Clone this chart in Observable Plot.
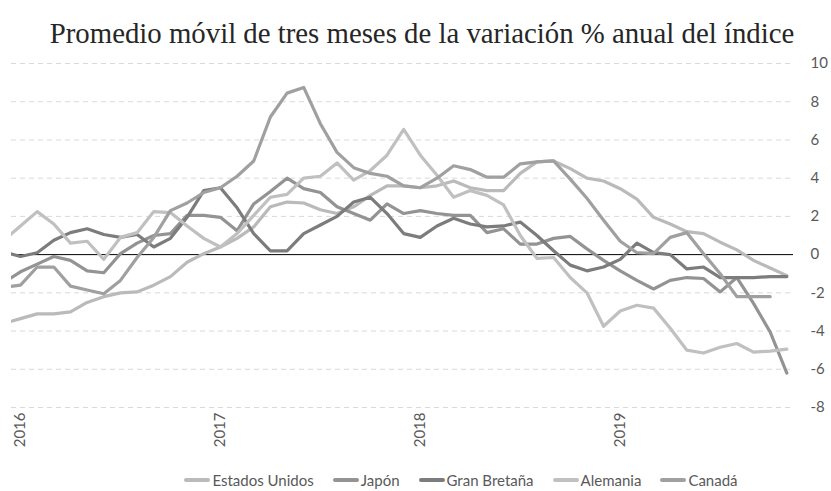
<!DOCTYPE html>
<html><head><meta charset="utf-8">
<script src="https://cdn.jsdelivr.net/npm/d3@7"></script>
<script src="https://cdn.jsdelivr.net/npm/@observablehq/plot@0.6"></script>
<style>
body{margin:0;background:#fff;width:831px;height:491px;overflow:hidden;position:relative;font-family:Lato,sans-serif;}
#title{position:absolute;left:0;top:19px;width:831px;padding-left:13px;box-sizing:border-box;text-align:center;font-family:"Liberation Serif",serif;font-size:28.8px;line-height:29px;color:#262626;white-space:nowrap;}
#chart{position:absolute;left:0;top:50px;}
#legend{position:absolute;left:0;top:468px;width:831px;height:24px;display:flex;justify-content:center;align-items:center;padding-left:110px;box-sizing:border-box;font-size:15px;color:#595959;}
.item{display:flex;align-items:center;margin-right:19px;}
.sw{display:inline-block;width:26px;height:4px;border-radius:2px;margin-right:2px;}
</style></head><body>
<div id="title">Promedio móvil de tres meses de la variación % anual del índice</div>
<div id="chart"></div>
<div id="legend"></div>
<script>
const meses = ["2015-12",
 "2016-01","2016-02","2016-03","2016-04","2016-05","2016-06","2016-07","2016-08","2016-09","2016-10","2016-11","2016-12",
 "2017-01","2017-02","2017-03","2017-04","2017-05","2017-06","2017-07","2017-08","2017-09","2017-10","2017-11","2017-12",
 "2018-01","2018-02","2018-03","2018-04","2018-05","2018-06","2018-07","2018-08","2018-09","2018-10","2018-11","2018-12",
 "2019-01","2019-02","2019-03","2019-04","2019-05","2019-06","2019-07","2019-08","2019-09","2019-10","2019-11"];

const estadosUnidos = [-3.6,-3.35,-3.1,-3.1,-3.0,-2.5,-2.2,-2.0,-1.95,-1.6,-1.15,-0.4,0.05,
 0.4,0.85,1.45,2.5,2.75,2.7,2.35,2.15,2.5,3.1,3.6,3.6,
 3.5,3.6,3.85,3.5,3.35,3.35,4.25,4.85,4.9,4.5,4.0,3.85,
 3.45,2.9,1.95,1.6,1.2,1.1,0.65,0.25,-0.3,-0.7,-1.1];
const japon = [-1.45,-0.9,-0.5,-0.1,-0.3,-0.85,-0.95,0.05,0.6,1.0,1.1,2.05,2.05,
 1.95,1.25,2.65,3.3,4.0,3.45,3.25,2.5,2.15,1.8,2.65,2.15,
 2.3,2.15,2.05,2.05,1.15,1.35,0.55,0.55,0.85,0.95,0.3,-0.3,
 -0.85,-1.35,-1.8,-1.35,-1.2,-1.25,-1.95,-1.2,-2.55,-4.05,-6.2];
const granBretana = [0.15,-0.1,0.1,0.75,1.15,1.35,1.05,0.9,1.05,0.4,0.85,1.95,3.35,
 3.5,2.45,1.1,0.2,0.2,1.1,1.55,2.0,2.75,3.0,2.15,1.1,
 0.9,1.5,1.9,1.6,1.45,1.5,1.7,1.0,0.2,-0.55,-0.85,-0.65,
 -0.25,0.6,0.1,0.0,-0.75,-0.65,-1.2,-1.2,-1.2,-1.15,-1.15];
const alemania = [0.75,1.5,2.25,1.6,0.6,0.7,-0.25,0.9,1.15,2.25,2.2,1.5,0.85,
 0.4,1.1,2.05,3.0,3.15,4.0,4.1,4.8,3.9,4.4,5.2,6.55,
 5.2,4.15,3.0,3.35,3.1,2.6,1.0,-0.2,-0.15,-1.2,-2.0,-3.75,
 -2.95,-2.65,-2.8,-3.85,-5.0,-5.15,-4.85,-4.65,-5.1,-5.05,-4.95];
const canada = [-1.7,-1.6,-0.65,-0.65,-1.65,-1.85,-2.05,-1.35,-0.15,0.9,2.3,2.7,3.25,
 3.5,4.1,4.9,7.2,8.45,8.75,6.85,5.35,4.55,4.25,4.1,3.6,
 3.5,4.0,4.65,4.45,4.05,4.05,4.75,4.85,4.9,3.95,2.95,1.8,
 0.7,0.1,0.05,0.9,1.15,0.05,-1.0,-2.2,-2.2,-2.2];

const series = ["Estados Unidos","Japón","Gran Bretaña","Alemania","Canadá"];
const valores = [estadosUnidos, japon, granBretana, alemania, canada];
const colores = ["#bababa","#939393","#7c7c7c","#c0c0c0","#a0a0a0"];
const yTicks = [-8,-6,-4,-2,0,2,4,6,8,10];
const xTickMeses = ["2016-01","2017-01","2018-01","2019-01"];

const rows = [];
series.forEach((s, j) => valores[j].forEach((v, i) => rows.push({serie: s, i, v})));

const chart = Plot.plot({
  width: 831, height: 410,
  marginTop: 13, marginBottom: 53, marginLeft: 11, marginRight: 38,
  style: {fontFamily: "Lato, sans-serif", background: "#fff"},
  x: {type: "linear", domain: [0.46, 47.4], axis: null, label: null},
  y: {domain: [-8, 10], axis: null, label: null},
  color: {domain: series, range: colores},
  marks: [
    Plot.ruleY(yTicks.filter(d => d !== 0), {stroke: "#d9d9d9", strokeWidth: 1, strokeDasharray: "5,4"}),
    Plot.ruleY([0], {stroke: "#000", strokeWidth: 1}),
    Plot.line(rows, {x: "i", y: "v", z: "serie", stroke: "serie", strokeWidth: 3.2, clip: true}),
    Plot.axisY(yTicks, {anchor: "right", label: null, tickSize: 0, tickPadding: 17, textAnchor: "start", tickFormat: d => String(d), fontSize: 15, fill: "#595959"}),
    Plot.axisX(xTickMeses.map(m => meses.indexOf(m)), {anchor: "bottom", label: null, tickSize: 0, tickPadding: 5, tickRotate: -90, tickFormat: i => meses[i].slice(0, 4), fontSize: 15, fill: "#595959"})
  ]
});
document.getElementById("chart").appendChild(chart);

const leg = document.getElementById("legend");
series.forEach((s, j) => {
  const it = document.createElement("div");
  it.className = "item";
  it.innerHTML = `<span class="sw" style="background:${colores[j]}"></span><span>${s}</span>`;
  leg.appendChild(it);
});
</script>
</body></html>
